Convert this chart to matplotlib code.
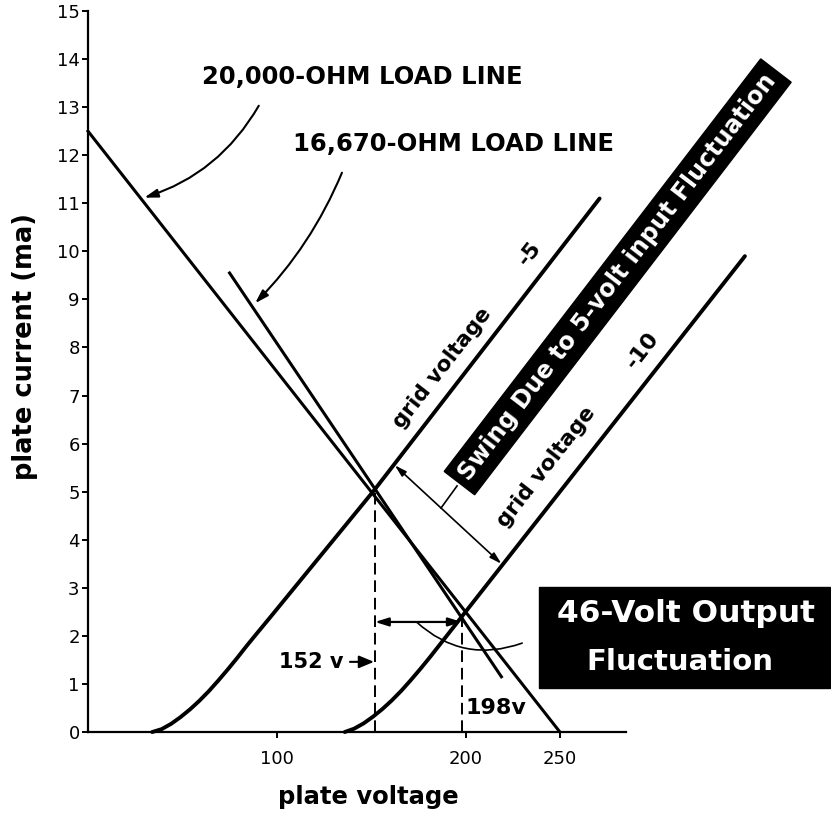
import matplotlib
matplotlib.use("Agg")
import matplotlib.pyplot as plt
from matplotlib.patches import Rectangle

# plate characteristics, plate volts vs plate milliamps
volt_ticks = [100, 200, 250]
current_ticks = list(range(0, 16))

load_20k_v = [0, 250]
load_20k_ma = [12.5, 0]
load_16k_v = [75, 219]
load_16k_ma = [9.55, 1.15]

grid5_v = [34, 39, 44, 49, 54, 59, 64, 69, 74, 79, 84, 89, 97, 152, 271]
grid5_ma = [0, 0.06, 0.17, 0.31, 0.47, 0.65, 0.85, 1.07, 1.3, 1.54, 1.79, 2.03, 2.41, 5.05, 11.1]

grid10_v = [136, 141, 146, 151, 156, 161, 166, 171, 176, 181, 186, 191, 198, 348]
grid10_ma = [0, 0.07, 0.18, 0.32, 0.48, 0.66, 0.86, 1.08, 1.31, 1.55, 1.8, 2.05, 2.4, 9.9]

# operating points for the two grid voltages
op_v = [152, 198]
op_ma = [5.05, 2.4]

fig = plt.figure(figsize=(8.31, 8.17), dpi=100)
ax = fig.add_axes([0.1059, 0.1040, 0.6474, 0.8825])
ax.set_xlim(0, 285)
ax.set_ylim(0, 15)
for s in ('top', 'right'):
    ax.spines[s].set_visible(False)
for s in ('left', 'bottom'):
    ax.spines[s].set_linewidth(1.6)
ax.set_xticks(volt_ticks)
ax.set_yticks(current_ticks)
ax.tick_params(direction='out', length=4, width=1.4, labelsize=13)
ax.tick_params(axis='x', pad=9)
ax.tick_params(axis='y', pad=2)

# load lines
ax.plot(load_20k_v, load_20k_ma, color='black', lw=2.2, clip_on=False)
ax.plot(load_16k_v, load_16k_ma, color='black', lw=2.2, clip_on=False)

# grid voltage curves
ax.plot(grid5_v, grid5_ma, color='black', lw=2.8, clip_on=False,
        solid_capstyle='round', solid_joinstyle='round')
ax.plot(grid10_v, grid10_ma, color='black', lw=2.8, clip_on=False,
        solid_capstyle='round', solid_joinstyle='round')

# operating point drop lines
ax.vlines(op_v, 0, op_ma, colors='black', lw=1.4, linestyles=(0, (6, 3)))

bold = dict(fontweight='bold', color='black')

# load line labels and pointers
ax.text(60.4, 13.63, '20,000-OHM LOAD LINE', fontsize=17.5, ha='left',
        va='center', **bold)
ax.annotate('', xy=(28.4, 11.1), xytext=(91.2, 13.08),
            arrowprops=dict(arrowstyle='-|>,head_length=0.8,head_width=0.25',
                            color='black', lw=1.5,
                            connectionstyle='arc3,rad=-0.2'))
ax.text(108.6, 12.23, '16,670-OHM LOAD LINE', fontsize=17.5, ha='left',
        va='center', **bold)
ax.annotate('', xy=(87.5, 8.88), xytext=(135.1, 11.69),
            arrowprops=dict(arrowstyle='-|>,head_length=0.8,head_width=0.25',
                            color='black', lw=1.5,
                            connectionstyle='arc3,rad=-0.1'))

# grid voltage labels along the curves
ax.text(187.6, 7.57, 'grid voltage', fontsize=15.5, rotation=52,
        ha='center', va='center', rotation_mode='anchor', **bold)
ax.text(234, 9.96, '-5', fontsize=16, rotation=52,
        ha='center', va='center', rotation_mode='anchor', **bold)
ax.text(243, 5.51, 'grid voltage', fontsize=15.5, rotation=52,
        ha='center', va='center', rotation_mode='anchor', **bold)
ax.text(294, 7.95, '-10', fontsize=16, rotation=52,
        ha='center', va='center', rotation_mode='anchor', **bold)

# swing between the two grid lines
ax.annotate('', xy=(219, 3.5), xytext=(162.5, 5.55),
            arrowprops=dict(arrowstyle='<|-|>,head_length=0.7,head_width=0.2',
                            color='black', lw=1.2, shrinkA=0, shrinkB=0))
ax.plot([187, 195.5], [4.66, 5.12], color='black', lw=1.2, clip_on=False)
ax.text(280.6, 9.47, 'Swing Due to 5-volt input Fluctuation', fontsize=17.2,
        rotation=52.5, ha='center', va='center', rotation_mode='anchor',
        color='white', fontweight='bold',
        bbox=dict(boxstyle='square,pad=0.3', fc='black', ec='black'))

# output swing
ax.annotate('', xy=(op_v[1], 2.29), xytext=(op_v[0], 2.29),
            arrowprops=dict(arrowstyle='<|-|>,head_length=0.8,head_width=0.25',
                            color='black', lw=1.6, shrinkA=0, shrinkB=0))
ax.annotate('', xy=(230, 1.85), xytext=(174, 2.29),
            arrowprops=dict(arrowstyle='-', color='black', lw=1.2,
                            connectionstyle='arc3,rad=0.3',
                            shrinkA=0, shrinkB=0))
ax.annotate(f'{op_v[0]} v', xy=(op_v[0] - 0.5, 1.46), xytext=(135.1, 1.46),
            fontsize=15, ha='right', va='center', **bold,
            arrowprops=dict(arrowstyle='-|>,head_length=0.6,head_width=0.25',
                            color='black', lw=1.5, shrinkA=3, shrinkB=0))
ax.text(op_v[1] + 2, 0.5, f'{op_v[1]}v', fontsize=16, ha='left',
        va='center', **bold)

# output fluctuation box
fig.patches.append(Rectangle((0.6486, 0.158), 0.350, 0.1236,
                             transform=fig.transFigure, fc='black',
                             ec='black', zorder=3))
fig.text(0.826, 1 - 613 / 817, '46-Volt Output', fontsize=22.5, color='white',
         fontweight='bold', ha='center', va='center', zorder=4)
fig.text(0.818, 1 - 662 / 817, 'Fluctuation', fontsize=21, color='white',
         fontweight='bold', ha='center', va='center', zorder=4)

# axis titles
fig.text(25 / 831, 1 - 347 / 817, 'plate current (ma)', rotation=90,
         fontsize=18.5, fontweight='bold', ha='center', va='center')
fig.text(368 / 831, 1 - 797 / 817, 'plate voltage', fontsize=17.5,
         fontweight='bold', ha='center', va='center')

fig.savefig('out.png', dpi=100)
